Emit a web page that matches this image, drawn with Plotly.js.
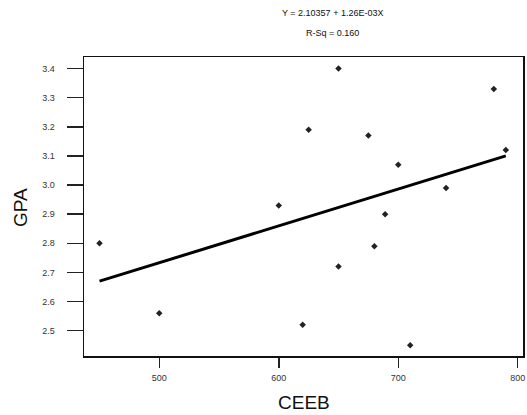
<!DOCTYPE html>
<html>
<head>
<meta charset="utf-8">
<script src="https://cdn.plot.ly/plotly-3.0.1.min.js"></script>
<style>html,body{margin:0;padding:0;background:#fff;}#chart{width:527px;height:415px;}</style>
</head>
<body>
<div id="chart"></div>
<script>
// Data
const ceeb = [450, 500, 600, 620, 625, 650, 650, 675, 680, 689, 700, 710, 740, 780, 790];
const gpa  = [2.80, 2.56, 2.93, 2.52, 3.19, 3.40, 2.72, 3.17, 2.79, 2.90, 3.07, 2.45, 2.99, 3.33, 3.12];
const fitX = [450, 790];
const fitY = [2.67, 3.10];
const xTicks = [500, 600, 700, 800];
const yTicks = [2.5, 2.6, 2.7, 2.8, 2.9, 3.0, 3.1, 3.2, 3.3, 3.4];
const yTickText = ['2.5', '2.6', '2.7', '2.8', '2.9', '3.0', '3.1', '3.2', '3.3', '3.4'];
const titleLine1 = 'Y = 2.10357 + 1.26E-03X';
const titleLine2 = 'R-Sq = 0.160';
const xTitle = 'CEEB';
const yTitle = 'GPA';

const FONT = 'Liberation Sans, Arial, sans-serif';

const traces = [
  {
    x: fitX, y: fitY, type: 'scatter', mode: 'lines',
    line: {color: '#000', width: 3}, hoverinfo: 'skip'
  },
  {
    x: ceeb, y: gpa, type: 'scatter', mode: 'markers',
    marker: {symbol: 'diamond', size: 5, color: '#222'}
  }
];

const layout = {
  width: 527, height: 415,
  margin: {l: 84, r: 4, t: 57, b: 59},
  paper_bgcolor: '#fff', plot_bgcolor: '#fff',
  showlegend: false,
  font: {family: FONT, size: 9, color: '#333'},
  xaxis: {
    range: [437, 804.4], tickvals: xTicks, ticks: 'outside', ticklen: 10, tickwidth: 1.5,
    tickcolor: '#222', showgrid: false, zeroline: false, showline: true, linecolor: '#111',
    linewidth: 1.5, mirror: true, ticklabelstandoff: 3,
    tickfont: {family: FONT, size: 9, color: '#333'}
  },
  yaxis: {
    range: [2.413, 3.4396], tickvals: yTicks, ticktext: yTickText, ticks: 'outside', ticklen: 16,
    tickwidth: 1.5, tickcolor: '#222', showgrid: false, zeroline: false, showline: true,
    linecolor: '#111', linewidth: 1.5, mirror: true, ticklabelstandoff: 10,
    tickfont: {family: FONT, size: 9, color: '#333'}
  },
  annotations: [
    {text: titleLine1, xref: 'paper', yref: 'paper', x: 0.567, y: 1.147, xanchor: 'center', yanchor: 'middle', showarrow: false, font: {family: FONT, size: 9, color: '#111'}},
    {text: titleLine2, xref: 'paper', yref: 'paper', x: 0.567, y: 1.080, xanchor: 'center', yanchor: 'middle', showarrow: false, font: {family: FONT, size: 9, color: '#111'}},
    {text: xTitle, xref: 'paper', yref: 'paper', x: 0.501, y: -0.157, xanchor: 'center', yanchor: 'middle', showarrow: false, font: {family: FONT, size: 19, color: '#111'}},
    {text: yTitle, xref: 'paper', yref: 'paper', x: -0.1435, y: 0.495, xanchor: 'center', yanchor: 'middle', textangle: -90, showarrow: false, font: {family: FONT, size: 19, color: '#111'}}
  ]
};

Plotly.newPlot('chart', traces, layout, {displayModeBar: false, staticPlot: true});
</script>
</body>
</html>
